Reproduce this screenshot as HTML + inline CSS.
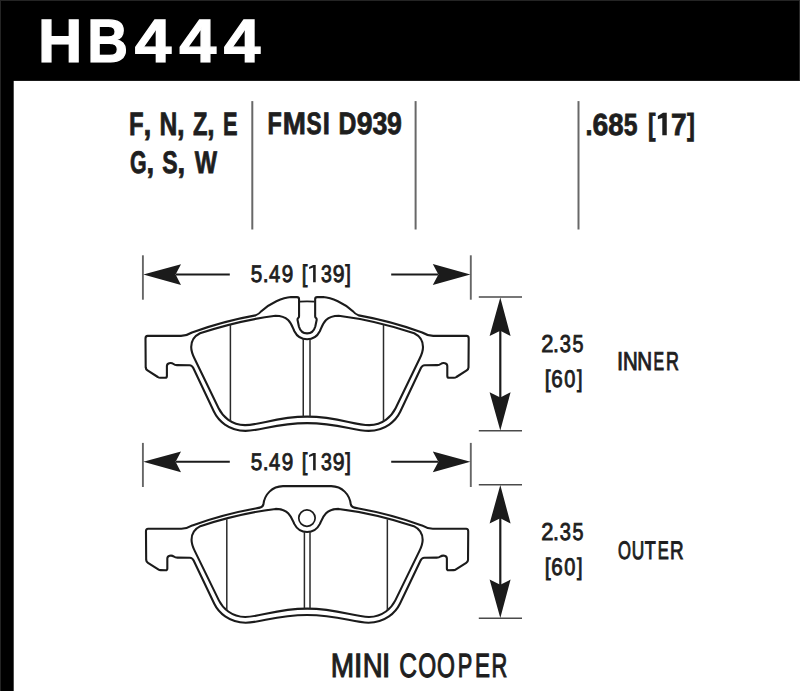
<!DOCTYPE html>
<html><head><meta charset="utf-8"><style>
html,body{margin:0;padding:0;background:#fff;}
body{width:800px;height:691px;overflow:hidden;position:relative;}
svg{position:absolute;left:0;top:0;}
text{font-family:"Liberation Sans",sans-serif;font-kerning:none;text-rendering:geometricPrecision;}
</style></head><body>
<svg width="800" height="691" viewBox="0 0 800 691">
<rect x="0" y="0" width="800" height="691" fill="#fff"/>
<rect x="0" y="0" width="800" height="80.9" fill="#000"/>
<rect x="0" y="0" width="13.7" height="691" fill="#000"/>
<rect x="0" y="0" width="800" height="1" fill="#242424"/>
<rect x="0" y="0" width="1" height="691" fill="#242424"/>
<rect x="799" y="0" width="1" height="80.9" fill="#2a2a2a"/>
<text transform="matrix(1.0020 0 0 1 38.00 62.10)" font-size="61.193" font-weight="bold" fill="#fff" stroke="#fff" stroke-width="1.20" stroke-linejoin="miter">H</text>
<text transform="matrix(0.9242 0 0 1 87.17 62.10)" font-size="61.193" font-weight="bold" fill="#fff" stroke="#fff" stroke-width="1.20" stroke-linejoin="miter">B</text>
<text transform="matrix(1.0772 0 0 1 134.65 62.10)" font-size="61.193" font-weight="bold" fill="#fff" stroke="#fff" stroke-width="1.20" stroke-linejoin="miter">4</text>
<text transform="matrix(1.0890 0 0 1 179.24 62.10)" font-size="61.193" font-weight="bold" fill="#fff" stroke="#fff" stroke-width="1.20" stroke-linejoin="miter">4</text>
<text transform="matrix(1.0772 0 0 1 223.65 62.10)" font-size="61.193" font-weight="bold" fill="#fff" stroke="#fff" stroke-width="1.20" stroke-linejoin="miter">4</text>
<text transform="matrix(0.7394 0 0 1 128.94 134.60)" font-size="32.413" font-weight="bold" fill="#1e1e1e" stroke="#1e1e1e" stroke-width="0.80" stroke-linejoin="miter">F</text>
<text transform="matrix(0.8736 0 0 1 143.43 134.60)" font-size="32.413" font-weight="bold" fill="#1e1e1e" stroke="#1e1e1e" stroke-width="0.80" stroke-linejoin="miter">,</text>
<text transform="matrix(0.7605 0 0 1 159.56 134.60)" font-size="32.413" font-weight="bold" fill="#1e1e1e" stroke="#1e1e1e" stroke-width="0.80" stroke-linejoin="miter">N</text>
<text transform="matrix(0.8460 0 0 1 176.98 134.60)" font-size="32.413" font-weight="bold" fill="#1e1e1e" stroke="#1e1e1e" stroke-width="0.80" stroke-linejoin="miter">,</text>
<text transform="matrix(0.7299 0 0 1 192.94 134.60)" font-size="32.413" font-weight="bold" fill="#1e1e1e" stroke="#1e1e1e" stroke-width="0.80" stroke-linejoin="miter">Z</text>
<text transform="matrix(0.8092 0 0 1 207.14 134.60)" font-size="32.413" font-weight="bold" fill="#1e1e1e" stroke="#1e1e1e" stroke-width="0.80" stroke-linejoin="miter">,</text>
<text transform="matrix(0.6716 0 0 1 223.06 134.60)" font-size="32.413" font-weight="bold" fill="#1e1e1e" stroke="#1e1e1e" stroke-width="0.80" stroke-linejoin="miter">E</text>
<text transform="matrix(0.6868 0 0 1 130.00 172.60)" font-size="31.178" font-weight="bold" fill="#1e1e1e" stroke="#1e1e1e" stroke-width="0.80" stroke-linejoin="miter">G</text>
<text transform="matrix(0.8839 0 0 1 146.58 172.60)" font-size="31.178" font-weight="bold" fill="#1e1e1e" stroke="#1e1e1e" stroke-width="0.80" stroke-linejoin="miter">,</text>
<text transform="matrix(0.7392 0 0 1 162.13 172.60)" font-size="31.178" font-weight="bold" fill="#1e1e1e" stroke="#1e1e1e" stroke-width="0.80" stroke-linejoin="miter">S</text>
<text transform="matrix(0.8839 0 0 1 177.58 172.60)" font-size="31.178" font-weight="bold" fill="#1e1e1e" stroke="#1e1e1e" stroke-width="0.80" stroke-linejoin="miter">,</text>
<text transform="matrix(0.7575 0 0 1 194.68 172.60)" font-size="31.178" font-weight="bold" fill="#1e1e1e" stroke="#1e1e1e" stroke-width="0.80" stroke-linejoin="miter">W</text>
<text transform="matrix(0.7539 0 0 1 267.43 134.00)" font-size="31.105" font-weight="bold" fill="#1e1e1e" stroke="#1e1e1e" stroke-width="0.80" stroke-linejoin="miter">F</text>
<text transform="matrix(0.8936 0 0 1 282.75 134.00)" font-size="31.105" font-weight="bold" fill="#1e1e1e" stroke="#1e1e1e" stroke-width="0.80" stroke-linejoin="miter">M</text>
<text transform="matrix(0.7306 0 0 1 306.44 134.00)" font-size="31.105" font-weight="bold" fill="#1e1e1e" stroke="#1e1e1e" stroke-width="0.80" stroke-linejoin="miter">S</text>
<text transform="matrix(0.8238 0 0 1 322.67 134.00)" font-size="31.105" font-weight="bold" fill="#1e1e1e" stroke="#1e1e1e" stroke-width="0.80" stroke-linejoin="miter">I</text>
<text transform="matrix(0.7949 0 0 1 338.56 134.00)" font-size="31.105" font-weight="bold" fill="#1e1e1e" stroke="#1e1e1e" stroke-width="0.80" stroke-linejoin="miter">D</text>
<text transform="matrix(0.9139 0 0 1 356.78 134.00)" font-size="31.105" font-weight="bold" fill="#1e1e1e" stroke="#1e1e1e" stroke-width="0.80" stroke-linejoin="miter">9</text>
<text transform="matrix(0.8609 0 0 1 372.48 134.00)" font-size="31.105" font-weight="bold" fill="#1e1e1e" stroke="#1e1e1e" stroke-width="0.80" stroke-linejoin="miter">3</text>
<text transform="matrix(0.8571 0 0 1 387.02 134.00)" font-size="31.105" font-weight="bold" fill="#1e1e1e" stroke="#1e1e1e" stroke-width="0.80" stroke-linejoin="miter">9</text>
<text transform="matrix(0.8224 0 0 1 585.43 134.80)" font-size="30.524" font-weight="bold" fill="#1e1e1e" stroke="#1e1e1e" stroke-width="0.80" stroke-linejoin="miter">.</text>
<text transform="matrix(0.9257 0 0 1 592.44 134.80)" font-size="30.524" font-weight="bold" fill="#1e1e1e" stroke="#1e1e1e" stroke-width="0.80" stroke-linejoin="miter">6</text>
<text transform="matrix(0.9043 0 0 1 608.34 134.80)" font-size="30.524" font-weight="bold" fill="#1e1e1e" stroke="#1e1e1e" stroke-width="0.80" stroke-linejoin="miter">8</text>
<text transform="matrix(0.8100 0 0 1 623.81 134.80)" font-size="30.524" font-weight="bold" fill="#1e1e1e" stroke="#1e1e1e" stroke-width="0.80" stroke-linejoin="miter">5</text>
<text transform="matrix(0.7434 0 0 1 648.02 134.80)" font-size="30.524" font-weight="bold" fill="#1e1e1e" stroke="#1e1e1e" stroke-width="0.80" stroke-linejoin="miter">[</text>
<text transform="matrix(0.9224 0 0 1 670.96 134.80)" font-size="30.524" font-weight="bold" fill="#1e1e1e" stroke="#1e1e1e" stroke-width="0.80" stroke-linejoin="miter">7</text>
<text transform="matrix(0.7772 0 0 1 687.12 134.80)" font-size="30.524" font-weight="bold" fill="#1e1e1e" stroke="#1e1e1e" stroke-width="0.80" stroke-linejoin="miter">]</text>
<path d="M666.75 112.8 L666.75 135.3 L662.3 135.3 L662.3 118.0 L657.85 119.2 L657.85 116.0 L663.0 112.8 Z" fill="#1e1e1e"/>
<path d="M315.7 264.90 L315.7 282.30 L313.1 282.30 L313.1 267.50 L309.1 269.00 L309.1 267.10 L313.1 264.90 Z" fill="#1e1e1e"/>
<text transform="matrix(0.8590 0 0 1 250.66 281.85)" font-size="24.128" fill="#1e1e1e" stroke="#1e1e1e" stroke-width="0.90" stroke-linejoin="miter">5</text>
<text transform="matrix(0.8757 0 0 1 262.66 281.85)" font-size="24.128" fill="#1e1e1e" stroke="#1e1e1e" stroke-width="0.90" stroke-linejoin="miter">.</text>
<text transform="matrix(0.8347 0 0 1 269.11 281.85)" font-size="24.128" fill="#1e1e1e" stroke="#1e1e1e" stroke-width="0.90" stroke-linejoin="miter">4</text>
<text transform="matrix(0.8551 0 0 1 281.72 281.85)" font-size="24.128" fill="#1e1e1e" stroke="#1e1e1e" stroke-width="0.90" stroke-linejoin="miter">9</text>
<text transform="matrix(0.8428 0 0 1 301.73 281.85)" font-size="24.128" fill="#1e1e1e" stroke="#1e1e1e" stroke-width="0.90" stroke-linejoin="miter">[</text>
<text transform="matrix(0.8104 0 0 1 320.92 281.85)" font-size="24.128" fill="#1e1e1e" stroke="#1e1e1e" stroke-width="0.90" stroke-linejoin="miter">3</text>
<text transform="matrix(0.8800 0 0 1 332.80 281.85)" font-size="24.128" fill="#1e1e1e" stroke="#1e1e1e" stroke-width="0.90" stroke-linejoin="miter">9</text>
<text transform="matrix(0.8428 0 0 1 345.32 281.85)" font-size="24.128" fill="#1e1e1e" stroke="#1e1e1e" stroke-width="0.90" stroke-linejoin="miter">]</text>
<path d="M315.7 452.90 L315.7 470.30 L313.1 470.30 L313.1 455.50 L309.1 457.00 L309.1 455.10 L313.1 452.90 Z" fill="#1e1e1e"/>
<text transform="matrix(0.8590 0 0 1 250.66 469.85)" font-size="24.128" fill="#1e1e1e" stroke="#1e1e1e" stroke-width="0.90" stroke-linejoin="miter">5</text>
<text transform="matrix(0.8757 0 0 1 262.66 469.85)" font-size="24.128" fill="#1e1e1e" stroke="#1e1e1e" stroke-width="0.90" stroke-linejoin="miter">.</text>
<text transform="matrix(0.8347 0 0 1 269.11 469.85)" font-size="24.128" fill="#1e1e1e" stroke="#1e1e1e" stroke-width="0.90" stroke-linejoin="miter">4</text>
<text transform="matrix(0.8551 0 0 1 281.72 469.85)" font-size="24.128" fill="#1e1e1e" stroke="#1e1e1e" stroke-width="0.90" stroke-linejoin="miter">9</text>
<text transform="matrix(0.8428 0 0 1 301.73 469.85)" font-size="24.128" fill="#1e1e1e" stroke="#1e1e1e" stroke-width="0.90" stroke-linejoin="miter">[</text>
<text transform="matrix(0.8104 0 0 1 320.92 469.85)" font-size="24.128" fill="#1e1e1e" stroke="#1e1e1e" stroke-width="0.90" stroke-linejoin="miter">3</text>
<text transform="matrix(0.8800 0 0 1 332.80 469.85)" font-size="24.128" fill="#1e1e1e" stroke="#1e1e1e" stroke-width="0.90" stroke-linejoin="miter">9</text>
<text transform="matrix(0.8428 0 0 1 345.32 469.85)" font-size="24.128" fill="#1e1e1e" stroke="#1e1e1e" stroke-width="0.90" stroke-linejoin="miter">]</text>
<text transform="matrix(0.8982 0 0 1 541.20 352.15)" font-size="24.419" fill="#1e1e1e" stroke="#1e1e1e" stroke-width="0.90" stroke-linejoin="miter">2</text>
<text transform="matrix(0.8682 0 0 1 553.05 352.15)" font-size="24.419" fill="#1e1e1e" stroke="#1e1e1e" stroke-width="0.90" stroke-linejoin="miter">.</text>
<text transform="matrix(0.8255 0 0 1 559.80 352.15)" font-size="24.419" fill="#1e1e1e" stroke="#1e1e1e" stroke-width="0.90" stroke-linejoin="miter">3</text>
<text transform="matrix(0.8095 0 0 1 572.57 352.15)" font-size="24.419" fill="#1e1e1e" stroke="#1e1e1e" stroke-width="0.90" stroke-linejoin="miter">5</text>
<text transform="matrix(0.8824 0 0 1 544.79 387.45)" font-size="23.983" fill="#1e1e1e" stroke="#1e1e1e" stroke-width="0.90" stroke-linejoin="miter">[</text>
<text transform="matrix(0.8607 0 0 1 551.24 387.45)" font-size="23.983" fill="#1e1e1e" stroke="#1e1e1e" stroke-width="0.90" stroke-linejoin="miter">6</text>
<text transform="matrix(0.8330 0 0 1 564.29 387.45)" font-size="23.983" fill="#1e1e1e" stroke="#1e1e1e" stroke-width="0.90" stroke-linejoin="miter">0</text>
<text transform="matrix(0.8295 0 0 1 577.12 387.45)" font-size="23.983" fill="#1e1e1e" stroke="#1e1e1e" stroke-width="0.90" stroke-linejoin="miter">]</text>
<text transform="matrix(0.8982 0 0 1 541.20 539.85)" font-size="24.419" fill="#1e1e1e" stroke="#1e1e1e" stroke-width="0.90" stroke-linejoin="miter">2</text>
<text transform="matrix(0.8682 0 0 1 553.05 539.85)" font-size="24.419" fill="#1e1e1e" stroke="#1e1e1e" stroke-width="0.90" stroke-linejoin="miter">.</text>
<text transform="matrix(0.8255 0 0 1 559.80 539.85)" font-size="24.419" fill="#1e1e1e" stroke="#1e1e1e" stroke-width="0.90" stroke-linejoin="miter">3</text>
<text transform="matrix(0.8095 0 0 1 572.57 539.85)" font-size="24.419" fill="#1e1e1e" stroke="#1e1e1e" stroke-width="0.90" stroke-linejoin="miter">5</text>
<text transform="matrix(0.8824 0 0 1 544.79 575.45)" font-size="23.983" fill="#1e1e1e" stroke="#1e1e1e" stroke-width="0.90" stroke-linejoin="miter">[</text>
<text transform="matrix(0.8607 0 0 1 551.24 575.45)" font-size="23.983" fill="#1e1e1e" stroke="#1e1e1e" stroke-width="0.90" stroke-linejoin="miter">6</text>
<text transform="matrix(0.8330 0 0 1 564.29 575.45)" font-size="23.983" fill="#1e1e1e" stroke="#1e1e1e" stroke-width="0.90" stroke-linejoin="miter">0</text>
<text transform="matrix(0.8295 0 0 1 577.12 575.45)" font-size="23.983" fill="#1e1e1e" stroke="#1e1e1e" stroke-width="0.90" stroke-linejoin="miter">]</text>
<text transform="matrix(0.8531 0 0 1 617.10 370.40)" font-size="25.727" fill="#1e1e1e" stroke="#1e1e1e" stroke-width="1.00" stroke-linejoin="miter">I</text>
<text transform="matrix(0.7937 0 0 1 622.92 370.40)" font-size="25.727" fill="#1e1e1e" stroke="#1e1e1e" stroke-width="1.00" stroke-linejoin="miter">N</text>
<text transform="matrix(0.8002 0 0 1 637.31 370.40)" font-size="25.727" fill="#1e1e1e" stroke="#1e1e1e" stroke-width="1.00" stroke-linejoin="miter">N</text>
<text transform="matrix(0.6156 0 0 1 653.41 370.40)" font-size="25.727" fill="#1e1e1e" stroke="#1e1e1e" stroke-width="1.00" stroke-linejoin="miter">E</text>
<text transform="matrix(0.6943 0 0 1 665.98 370.40)" font-size="25.727" fill="#1e1e1e" stroke="#1e1e1e" stroke-width="1.00" stroke-linejoin="miter">R</text>
<text transform="matrix(0.6552 0 0 1 618.04 558.60)" font-size="25.364" fill="#1e1e1e" stroke="#1e1e1e" stroke-width="1.00" stroke-linejoin="miter">O</text>
<text transform="matrix(0.6817 0 0 1 631.81 558.60)" font-size="25.364" fill="#1e1e1e" stroke="#1e1e1e" stroke-width="1.00" stroke-linejoin="miter">U</text>
<text transform="matrix(0.7105 0 0 1 644.65 558.60)" font-size="25.364" fill="#1e1e1e" stroke="#1e1e1e" stroke-width="1.00" stroke-linejoin="miter">T</text>
<text transform="matrix(0.6510 0 0 1 657.77 558.60)" font-size="25.364" fill="#1e1e1e" stroke="#1e1e1e" stroke-width="1.00" stroke-linejoin="miter">E</text>
<text transform="matrix(0.7410 0 0 1 669.93 558.60)" font-size="25.364" fill="#1e1e1e" stroke="#1e1e1e" stroke-width="1.00" stroke-linejoin="miter">R</text>
<text transform="matrix(0.8361 0 0 1 330.66 677.25)" font-size="33.576" fill="#1e1e1e" stroke="#1e1e1e" stroke-width="1.10" stroke-linejoin="miter">M</text>
<text transform="matrix(0.9453 0 0 1 353.69 677.25)" font-size="33.576" fill="#1e1e1e" stroke="#1e1e1e" stroke-width="1.10" stroke-linejoin="miter">I</text>
<text transform="matrix(0.8209 0 0 1 362.79 677.25)" font-size="33.576" fill="#1e1e1e" stroke="#1e1e1e" stroke-width="1.10" stroke-linejoin="miter">N</text>
<text transform="matrix(0.9335 0 0 1 381.87 677.25)" font-size="33.576" fill="#1e1e1e" stroke="#1e1e1e" stroke-width="1.10" stroke-linejoin="miter">I</text>
<text transform="matrix(0.7289 0 0 1 399.16 677.25)" font-size="33.576" fill="#1e1e1e" stroke="#1e1e1e" stroke-width="1.10" stroke-linejoin="miter">C</text>
<text transform="matrix(0.6869 0 0 1 418.29 677.25)" font-size="33.576" fill="#1e1e1e" stroke="#1e1e1e" stroke-width="1.10" stroke-linejoin="miter">O</text>
<text transform="matrix(0.6869 0 0 1 436.99 677.25)" font-size="33.576" fill="#1e1e1e" stroke="#1e1e1e" stroke-width="1.10" stroke-linejoin="miter">O</text>
<text transform="matrix(0.6484 0 0 1 457.77 677.25)" font-size="33.576" fill="#1e1e1e" stroke="#1e1e1e" stroke-width="1.10" stroke-linejoin="miter">P</text>
<text transform="matrix(0.6685 0 0 1 475.03 677.25)" font-size="33.576" fill="#1e1e1e" stroke="#1e1e1e" stroke-width="1.10" stroke-linejoin="miter">E</text>
<text transform="matrix(0.6513 0 0 1 491.56 677.25)" font-size="33.576" fill="#1e1e1e" stroke="#1e1e1e" stroke-width="1.10" stroke-linejoin="miter">R</text>
<path d="M307.10 333.40 C303.70 333.40 300.30 331.50 298.90 326.50 L297.60 320.20 Q297.30 318.60 298.30 317.90 Q299.05 317.30 299.05 316.20 L299.05 299.20 Q299.05 297.20 297.00 297.10 L291.00 297.00 C283.00 297.50 270.00 303.00 261.00 311.50 Q259.30 313.80 255.50 315.40 C238.00 318.50 210.00 326.00 192.00 332.50 Q186.50 335.85 181.00 335.85 L147.60 335.85 Q145.50 335.85 145.50 338.40 L145.70 367.40 Q145.80 369.30 147.50 370.40 L157.80 377.00 Q158.80 377.70 160.20 377.70 L165.20 377.80 Q166.90 377.80 166.90 376.00 L166.90 366.00 C166.90 363.00 171.00 362.20 173.50 364.00 Q174.80 365.10 177.00 365.10 L189.60 365.20 Q192.00 365.30 193.30 368.00 L214.00 411.80 C218.20 420.50 228.50 430.80 245.50 430.90 C261.00 430.80 276.00 423.20 307.10 423.10 C338.20 423.20 353.20 430.80 368.70 430.90 C385.70 430.80 396.00 420.50 400.20 411.80 L420.90 368.00 Q422.20 365.30 424.60 365.20 L437.20 365.10 Q439.40 365.10 440.70 364.00 C443.20 362.20 447.30 363.00 447.30 366.00 L447.30 376.00 Q447.30 377.80 449.00 377.80 L454.00 377.70 Q455.40 377.70 456.40 377.00 L466.70 370.40 Q468.40 369.30 468.50 367.40 L468.70 338.40 Q468.70 335.85 466.60 335.85 L433.20 335.85 Q427.70 335.85 422.20 332.50 C404.20 326.00 376.20 318.50 358.70 315.40 Q354.90 313.80 353.20 311.50 C344.20 303.00 331.20 297.50 323.20 297.00 L317.20 297.10 Q315.15 297.20 315.15 299.20 L315.15 316.20 Q315.15 317.30 315.90 317.90 Q316.90 318.60 316.60 320.20 L315.30 326.50 C313.90 331.50 310.50 333.40 307.10 333.40 Z" fill="none" stroke="#1b1b1b" stroke-width="2.1" stroke-linejoin="round" stroke-linecap="round"/>
<path d="M307.10 339.20 C302.00 339.20 297.20 336.80 294.40 331.20 C291.50 325.00 289.50 315.80 275.50 315.80 Q239.50 320.30 200.00 333.25 C194.50 336.00 191.20 341.50 191.20 347.00 C191.20 351.50 192.50 354.50 194.50 358.50 L218.60 408.30 C222.50 416.20 231.00 424.80 245.00 425.10 C261.00 425.00 276.00 416.80 307.10 416.65 C338.20 416.80 353.20 425.00 369.20 425.10 C383.20 424.80 391.70 416.20 395.60 408.30 L419.70 358.50 C421.70 354.50 423.00 351.50 423.00 347.00 C423.00 341.50 419.70 336.00 414.20 333.25 Q374.70 320.30 338.70 315.80 C324.70 315.80 322.70 325.00 319.80 331.20 C317.00 336.80 312.20 339.20 307.10 339.20 Z" fill="none" stroke="#1b1b1b" stroke-width="2.1" stroke-linejoin="round" stroke-linecap="round"/>
<path d="M307.10 486.10 L283.00 486.10 C272.00 486.30 264.50 494.50 263.40 504.50 Q263.00 507.50 255.50 508.53 C238.21 511.59 210.29 519.01 192.35 525.43 Q186.86 528.74 181.38 528.74 L148.08 528.74 Q145.98 528.74 145.98 531.26 L146.18 559.93 Q146.28 561.81 147.98 562.90 L158.25 569.42 Q159.24 570.11 160.64 570.11 L165.63 570.21 Q167.32 570.21 167.32 568.43 L167.32 558.55 C167.32 555.58 171.41 554.79 173.90 556.57 Q175.20 557.66 177.39 557.66 L189.95 557.76 Q192.35 557.85 193.64 560.52 L214.28 603.82 C218.47 612.42 228.74 622.60 245.68 622.70 C261.14 622.60 276.09 615.09 307.10 614.99 C338.11 615.09 353.06 622.60 368.52 622.70 C385.46 622.60 395.73 612.42 399.92 603.82 L420.56 560.52 Q421.85 557.85 424.25 557.76 L436.81 557.66 Q439.00 557.66 440.30 556.57 C442.79 554.79 446.88 555.58 446.88 558.55 L446.88 568.43 Q446.88 570.21 448.57 570.21 L453.56 570.11 Q454.96 570.11 455.95 569.42 L466.22 562.90 Q467.92 561.81 468.02 559.93 L468.22 531.26 Q468.22 528.74 466.12 528.74 L432.82 528.74 Q427.34 528.74 421.85 525.43 C403.91 519.01 375.99 511.59 358.70 508.53 Q351.20 507.50 350.80 504.50 C349.70 494.50 342.20 486.30 331.20 486.10 L307.10 486.10 Z" fill="none" stroke="#1b1b1b" stroke-width="2.1" stroke-linejoin="round" stroke-linecap="round"/>
<path d="M307.10 532.05 C302.02 532.05 297.23 529.68 294.44 524.15 C291.55 518.02 289.55 508.92 275.59 508.92 Q239.70 513.37 200.32 526.17 C194.84 528.89 191.55 534.33 191.55 539.76 C191.55 544.21 192.84 547.18 194.84 551.13 L218.87 600.36 C222.75 608.17 231.23 616.67 245.19 616.97 C261.14 616.87 276.09 608.76 307.10 608.61 C338.11 608.76 353.06 616.87 369.01 616.97 C382.97 616.67 391.45 608.17 395.33 600.36 L419.36 551.13 C421.36 547.18 422.65 544.21 422.65 539.76 C422.65 534.33 419.36 528.89 413.88 526.17 Q374.50 513.37 338.61 508.92 C324.65 508.92 322.65 518.02 319.76 524.15 C316.97 529.68 312.18 532.05 307.10 532.05 Z" fill="none" stroke="#1b1b1b" stroke-width="2.1" stroke-linejoin="round" stroke-linecap="round"/>
<path d="M299.6 301.7 Q307 301.2 314.5 301.7" fill="none" stroke="#1b1b1b" stroke-width="1.7"/>
<circle cx="306.95" cy="518.1" r="8.2" fill="none" stroke="#1b1b1b" stroke-width="1.7"/>
<line x1="230.4" y1="324.6" x2="230.4" y2="421.0" stroke="#2a2a2a" stroke-width="1.5"/>
<line x1="383.5" y1="324.6" x2="383.5" y2="421.0" stroke="#2a2a2a" stroke-width="1.5"/>
<line x1="303.25" y1="339" x2="303.25" y2="416.8" stroke="#2a2a2a" stroke-width="1.5"/>
<line x1="310.0" y1="339" x2="310.0" y2="416.8" stroke="#2a2a2a" stroke-width="1.5"/>
<line x1="226.8" y1="519.3" x2="226.8" y2="609.8" stroke="#2a2a2a" stroke-width="1.5"/>
<line x1="387.35" y1="519.3" x2="387.35" y2="609.8" stroke="#2a2a2a" stroke-width="1.5"/>
<line x1="304.4" y1="531.5" x2="304.4" y2="608.5" stroke="#2a2a2a" stroke-width="1.5"/>
<line x1="310.0" y1="531.5" x2="310.0" y2="608.5" stroke="#2a2a2a" stroke-width="1.5"/>
<line x1="142.9" y1="255.3" x2="142.9" y2="299.7" stroke="#666" stroke-width="1.9"/>
<line x1="470.8" y1="255.3" x2="470.8" y2="299.7" stroke="#666" stroke-width="1.9"/>
<line x1="176" y1="274.4" x2="229.8" y2="274.4" stroke="#1b1b1b" stroke-width="2.0"/>
<line x1="391.2" y1="274.4" x2="438" y2="274.4" stroke="#1b1b1b" stroke-width="2.0"/>
<path d="M143.3 274.4 L181 264.3 L175.6 274.4 L181 284.9 Z" fill="#1b1b1b"/>
<path d="M470.4 274.4 L432.8 264.1 L438.4 274.4 L432.8 284.9 Z" fill="#1b1b1b"/>
<line x1="142.9" y1="442.9" x2="142.9" y2="487.0" stroke="#666" stroke-width="1.9"/>
<line x1="470.8" y1="442.9" x2="470.8" y2="487.0" stroke="#666" stroke-width="1.9"/>
<line x1="176" y1="461.7" x2="229.8" y2="461.7" stroke="#1b1b1b" stroke-width="2.0"/>
<line x1="391.2" y1="461.7" x2="438" y2="461.7" stroke="#1b1b1b" stroke-width="2.0"/>
<path d="M143.3 461.7 L181 451.6 L175.6 461.7 L181 472.2 Z" fill="#1b1b1b"/>
<path d="M470.4 461.7 L432.8 451.4 L438.4 461.7 L432.8 472.2 Z" fill="#1b1b1b"/>
<line x1="478.8" y1="297.1" x2="522" y2="297.1" stroke="#4a4a4a" stroke-width="1.5"/>
<line x1="478.8" y1="430.8" x2="522" y2="430.8" stroke="#4a4a4a" stroke-width="1.5"/>
<line x1="500.3" y1="327.1" x2="500.3" y2="400.8" stroke="#1b1b1b" stroke-width="2.2"/>
<path d="M500.3 297.4 L489.6 336.0 L500.3 330.7 L510.6 336.0 Z" fill="#1b1b1b"/>
<path d="M500.3 430.5 L489.6 392.2 L500.3 397.4 L510.6 392.2 Z" fill="#1b1b1b"/>
<line x1="478.8" y1="484.7" x2="522" y2="484.7" stroke="#4a4a4a" stroke-width="1.5"/>
<line x1="478.8" y1="618.2" x2="522" y2="618.2" stroke="#4a4a4a" stroke-width="1.5"/>
<line x1="500.3" y1="514.7" x2="500.3" y2="588.2" stroke="#1b1b1b" stroke-width="2.2"/>
<path d="M500.3 485.0 L489.6 523.6 L500.3 518.3 L510.6 523.6 Z" fill="#1b1b1b"/>
<path d="M500.3 617.9 L489.6 579.6 L500.3 584.8 L510.6 579.6 Z" fill="#1b1b1b"/>
<line x1="252.3" y1="101.1" x2="252.3" y2="229.5" stroke="#686868" stroke-width="2.0"/>
<line x1="415.6" y1="101.1" x2="415.6" y2="229.5" stroke="#686868" stroke-width="2.0"/>
<line x1="578.5" y1="101.1" x2="578.5" y2="229.5" stroke="#686868" stroke-width="2.0"/>
</svg>
</body></html>
